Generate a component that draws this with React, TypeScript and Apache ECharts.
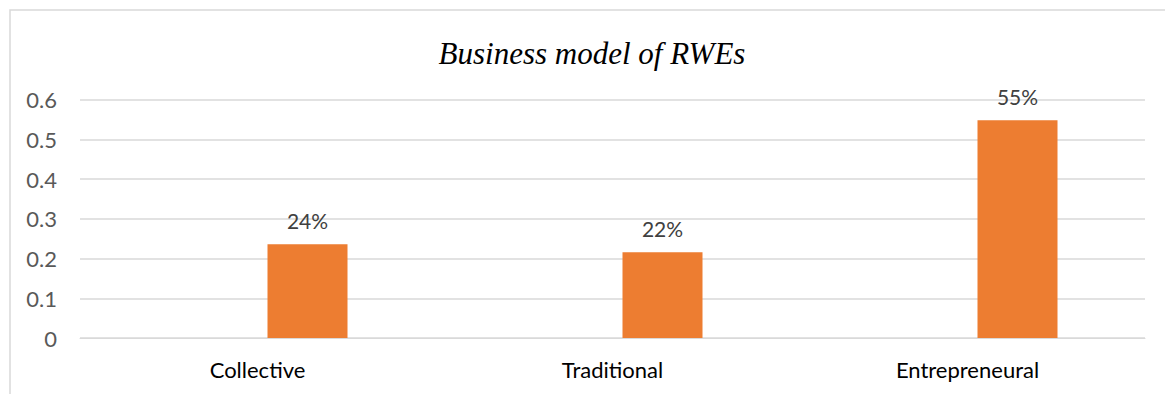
import React, { useEffect, useRef } from "react";
import * as echarts from "echarts";

const categories = ["Collective", "Traditional", "Entrepreneural"];
const emptySeries = [null, null, null];
const shareValues = [0.236, 0.216, 0.548];
const yTicks = { min: 0, max: 0.6, interval: 0.1 };
const titleText = "Business model of RWEs";

export default function App() {
  const ref = useRef<HTMLDivElement>(null);
  useEffect(() => {
    document.body.style.margin = "0";
    const chart = echarts.init(ref.current!, null, { renderer: "svg" });
    const font = "Lato, 'Open Sans', sans-serif";
    chart.setOption({
      animation: false,
      backgroundColor: "#ffffff",
      title: {
        text: titleText,
        left: 587,
        top: 33,
        textAlign: "center",
        textStyle: {
          fontFamily: "'Liberation Serif', 'DejaVu Serif', serif",
          fontStyle: "italic",
          fontWeight: "normal",
          fontSize: 31,
          color: "#000000",
        },
      },
      graphic: [
        {
          type: "rect",
          shape: { x: 10, y: 10, width: 1300, height: 600 },
          style: { fill: "none", stroke: "#d9d9d9", lineWidth: 1.5 },
          silent: true,
          z: 100,
        },
      ],
      grid: { left: 80, right: 20, top: 99.5, bottom: 56, containLabel: false },
      xAxis: {
        type: "category",
        data: categories,
        axisLine: { show: true, lineStyle: { color: "#d9d9d9", width: 1 } },
        axisTick: { show: false },
        axisLabel: {
          color: "#000000",
          fontFamily: font,
          fontSize: 22,
          margin: 20,
        },
      },
      yAxis: {
        type: "value",
        min: yTicks.min,
        max: yTicks.max,
        interval: yTicks.interval,
        axisLine: { show: false },
        axisTick: { show: false },
        splitLine: { lineStyle: { color: "#d9d9d9", width: 1.5 } },
        axisLabel: {
          color: "#595959",
          fontFamily: font,
          fontSize: 22,
          margin: 23,
          formatter: (v: number) => (v === 0 ? "0" : v.toFixed(1)),
        },
      },
      series: [
        {
          type: "bar",
          name: "hidden",
          data: emptySeries,
          barWidth: 80,
          barGap: "25%",
          itemStyle: { color: "#4472c4" },
        },
        {
          type: "bar",
          name: "Share",
          data: shareValues,
          barWidth: 80,
          barGap: "25%",
          itemStyle: { color: "#ed7d31" },
          label: {
            show: true,
            position: "top",
            distance: 13,
            color: "#404040",
            fontFamily: font,
            fontSize: 21,
            formatter: (p: any) => Math.round(p.value * 100) + "%",
          },
        },
      ],
    });
    return () => chart.dispose();
  }, []);
  return <div ref={ref} style={{ width: 1165, height: 394 }} />;
}
